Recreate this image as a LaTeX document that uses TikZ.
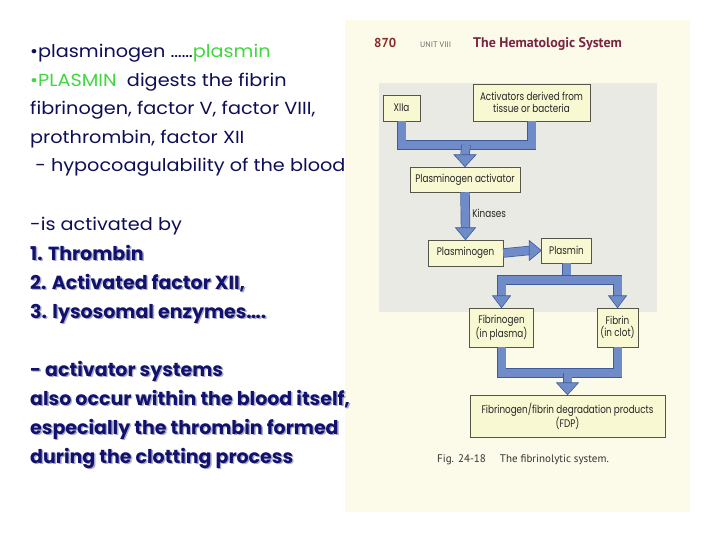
\documentclass[tikz,border=0pt]{standalone}
\usepackage{fontspec}
\usetikzlibrary{calc}
\setmainfont{Poppins}
\newfontfamily\leftreg[FakeStretch=1.1]{Poppins}
\newfontfamily\leftbold{Poppins}
\newfontfamily\figfont[FakeStretch=0.80]{Poppins}
\newfontfamily\headfont{PT Sans}
\definecolor{navy}{HTML}{0E0E58}
\definecolor{navyb}{HTML}{12126E}
\definecolor{shadowc}{HTML}{A8AACB}
\definecolor{brightgreen}{HTML}{42D742}
\definecolor{cream}{HTML}{FCFBE9}
\definecolor{panelgray}{HTML}{EAEAE4}
\definecolor{boxfill}{HTML}{F8F8D2}
\definecolor{boxedge}{HTML}{55554A}
\definecolor{bandfill}{HTML}{6F8CC8}
\definecolor{bandedge}{HTML}{3F5A9A}
\definecolor{headred}{HTML}{8A2C2C}
\definecolor{headmaroon}{HTML}{7A2443}
\newcommand\shd[1]{\rlap{\raisebox{-1.4pt}{\hspace{1.4pt}\textcolor{shadowc}{#1}}}#1}
\tikzset{
  lefttext/.style={anchor=base west, inner sep=0pt, text=navy, font=\leftreg\fontsize{17.5}{20}\selectfont},
  boldtext/.style={anchor=base west, inner sep=0pt, text=navyb, font=\leftbold\fontsize{19}{21}\selectfont\bfseries},
  figbox/.style={draw=boxedge, line width=0.5pt, fill=boxfill, inner sep=0pt, align=center,
     font=\figfont\fontsize{11}{12.5}\selectfont, text=black!85},
  band/.style={draw=bandfill, line width=8pt, line join=miter, line cap=butt,
     preaction={draw=bandedge, line width=9.4pt, line join=miter, line cap=butt}},
  headtip/.style={draw=bandedge, fill=bandfill, line width=0.6pt, line join=miter},
}
\begin{document}
\begin{tikzpicture}[x=1pt,y=-1pt]
\useasboundingbox (0,0) rectangle (720,540);
\fill[white] (0,0) rectangle (720,540);
% scanned page
\fill[cream] (345,20) rectangle (690,512);
\fill[panelgray] (379,83) rectangle (657,312);
% header
\node[anchor=base west, inner sep=0pt, font=\headfont\bfseries\fontsize{13}{14}\selectfont, text=headred] (pg) at (374,48) {870};
\node[anchor=base west, inner sep=0pt, font=\headfont\fontsize{8}{9}\selectfont, text=black!60] (unit) at (420,48) {UNIT VIII};
\node[anchor=base west, inner sep=0pt, font=\headfont\bfseries\fontsize{14}{15}\selectfont, text=headmaroon] (title) at (473,48) {The Hematologic System};
% left text
\node[lefttext] (l1) at (30,58) {•plasminogen ……\textcolor{brightgreen}{plasmin}};
\node[lefttext] (l2) at (30,87) {\textcolor{brightgreen}{•PLASMIN}\ \ digests the fibrin};
\node[lefttext] (l3) at (30,115) {fibrinogen, factor V, factor VIII,};
\node[lefttext] (l4) at (30,144) {prothrombin, factor XII};
\node[lefttext] (l5) at (30,172) {\ - hypocoagulability of the blood};
\node[lefttext] (l6) at (30,230) {-is activated by};
\node[boldtext] (l7) at (30,260) {\shd{1. Thrombin}};
\node[boldtext] (l8) at (30,289) {\shd{2. Activated factor XII,}};
\node[boldtext] (l9) at (30,318) {\shd{3. lysosomal enzymes….}};
\node[boldtext] (l10) at (30,376) {\shd{- activator systems}};
\node[boldtext] (l11) at (30,405) {\shd{also occur within the blood itself,}};
\node[boldtext] (l12) at (30,434) {\shd{especially the thrombin formed}};
\node[boldtext] (l13) at (30,463) {\shd{during the clotting process}};
% diagram boxes
\node[figbox, minimum width=37pt, minimum height=26pt] (xiia) at (401.5,108) {XIIa};
\node[figbox, minimum width=117pt, minimum height=37pt] (act) at (531.5,102.5) {Activators derived from\\tissue or bacteria};
\node[figbox, minimum width=110pt, minimum height=25pt] (pa) at (465,179.5) {Plasminogen activator};
\node[figbox, minimum width=75pt, minimum height=26pt] (plg) at (465.5,253) {Plasminogen};
\node[figbox, minimum width=50pt, minimum height=25pt] (plm) at (566.5,250.5) {Plasmin};
\node[figbox, minimum width=64pt, minimum height=39pt] (fbg) at (501.5,327.5) {Fibrinogen\\(in plasma)};
\node[figbox, minimum width=41pt, minimum height=39pt] (fbn) at (617.5,327.5) {Fibrin\\(in clot)};
\node[figbox, minimum width=195pt, minimum height=42pt] (fdp) at (567.5,416) {Fibrinogen/fibrin degradation products\\(FDP)};
\node[anchor=west, inner sep=0pt, figbox, draw=none, fill=none] (kin) at (472,213) {Kinases};
% caption
\node[anchor=base west, inner sep=0pt, font=\headfont\fontsize{11}{13}\selectfont, text=black!80] (cap) at (437,462) {Fig. 24-18\hspace{14pt}The fibrinolytic system.};
% bands
\coordinate (j1) at (466,145);
\draw[band] (xiia.south) |- (j1) -| (act.south);
\draw[band] (j1) -- ($(pa.north)+(0,-12)$);
\draw[headtip] (pa.north) -- ++(-11,-12) -- ++(22,0) -- cycle;
\draw[band] (pa.south) -- ($(plg.north)+(0,-12)$);
\draw[headtip] (plg.north) -- ++(-10,-12) -- ++(20,0) -- cycle;
\draw[band] (plg.east) -- ($(plm.west)+(-12,0)$);
\draw[headtip] (plm.west) -- ++(-12,-10) -- ++(0,20) -- cycle;
\coordinate (j2) at (566.5,280);
\draw[band] (plm.south) -- (j2);
\draw[band] ($(fbg.north)+(0,-12)$) |- (j2) -| ($(fbn.north)+(0,-12)$);
\draw[headtip] (fbg.north) -- ++(-9,-12) -- ++(18,0) -- cycle;
\draw[headtip] (fbn.north) -- ++(-9,-12) -- ++(18,0) -- cycle;
\coordinate (j3) at (567.5,373);
\draw[band] (fbg.south) |- (j3) -| (fbn.south);
\draw[band] (j3) -- ($(fdp.north)+(0,-11)$);
\draw[headtip] (fdp.north) -- ++(-11,-12) -- ++(22,0) -- cycle;
\end{tikzpicture}
\end{document}
